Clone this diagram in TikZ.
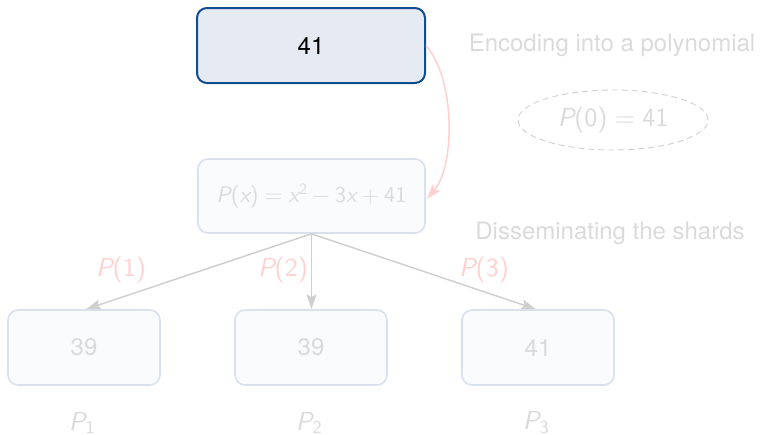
\documentclass[tikz,border=0pt]{standalone}
\usepackage{fontspec}
\setmainfont{TeX Gyre Heros}
\newfontfamily\lmss{lmsans10-regular.otf}
\newfontfamily\lmssi{lmsans10-oblique.otf}
\newcommand\vP{{\lmssi P}}
\newcommand\vx{{\lmssi x}}
\newcommand\thk{\hspace{0.2778em}}
\newcommand\med{\hspace{0.2222em}}
\usetikzlibrary{arrows.meta,shapes.geometric}
\definecolor{topfill}{HTML}{E5EAF3}
\definecolor{topdraw}{HTML}{0E4D92}
\definecolor{boxfill}{HTML}{FAFBFD}
\definecolor{boxdraw}{HTML}{D8E2EF}
\definecolor{fadetext}{HTML}{DADADA}
\definecolor{arrowgray}{HTML}{CFCFCF}
\definecolor{pinkish}{HTML}{FFD0D0}
\tikzset{
  every node/.style={font=\fontsize{24}{28}\selectfont},
  mathfont/.style={font=\fontsize{26}{30}\selectfont\lmss},
  topbox/.style={draw=topdraw, fill=topfill, line width=2pt, rounded corners=10pt,
    minimum width=228pt, minimum height=75pt, inner sep=0pt, text=black},
  fadebox/.style={draw=boxdraw, fill=boxfill, line width=1.6pt, rounded corners=10pt,
    minimum height=75pt, inner sep=0pt, text=fadetext},
  fadetxt/.style={text=fadetext},
  pinktxt/.style={text=pinkish},
  sharearrow/.style={draw=arrowgray, line width=1.5pt, -{Stealth[length=15pt,width=10pt,inset=3pt]}},
  pinkarrow/.style={draw=pinkish, line width=1.5pt, -{Stealth[length=15pt,width=10pt,inset=3pt]}},
}
\begin{document}
\begin{tikzpicture}[x=1pt,y=-1pt]
\useasboundingbox (0,0) rectangle (762,434);
\node[topbox] (top) at (311,45.5) {41};
\node[fadebox, minimum width=227pt, minimum height=74pt, font=\fontsize{22.5}{26}\selectfont\lmss] (poly) at (311.5,196)
  {\vP(\vx)\thk=\thk\vx\textsuperscript{2}\med−\med3\vx\med+\med41};
\node[fadebox, minimum width=152pt] (b1) at (84,347.5) {39};
\node[fadebox, minimum width=152pt] (b2) at (311,347.5) {39};
\node[fadebox, minimum width=152pt] (b3) at (538,347.5) {41};
\node[fadetxt] (enc) at (612,45) {Encoding into a polynomial};
\node[fadetxt] (dis) at (610,233) {Disseminating the shards};
\node[ellipse, draw=arrowgray, dash pattern=on 6pt off 4pt, line width=0.9pt, minimum width=190pt, minimum height=60pt, fadetxt, mathfont] (p0) at (613,120)
  {\vP(0)\thk=\thk41};
\node[pinktxt, mathfont] (l1) at (121,270) {\vP(1)};
\node[pinktxt, mathfont] (l2) at (283,270) {\vP(2)};
\node[pinktxt, mathfont] (l3) at (484,270) {\vP(3)};
\node[fadetxt, mathfont] (n1) at (82,423) {\vP\textsubscript{1}};
\node[fadetxt, mathfont] (n2) at (309,423) {\vP\textsubscript{2}};
\node[fadetxt, mathfont] (n3) at (536,423) {\vP\textsubscript{3}};
\draw[pinkarrow] (top.east) .. controls +(30,35) and +(28,-33) .. ([xshift=1pt,yshift=-3pt]poly.east);
\draw[sharearrow] (poly.south) -- ([xshift=2pt]b1.north);
\draw[sharearrow] (poly.south) -- ([xshift=0.5pt]b2.north);
\draw[sharearrow] (poly.south) -- ([xshift=-2pt]b3.north);
\end{tikzpicture}
\end{document}
